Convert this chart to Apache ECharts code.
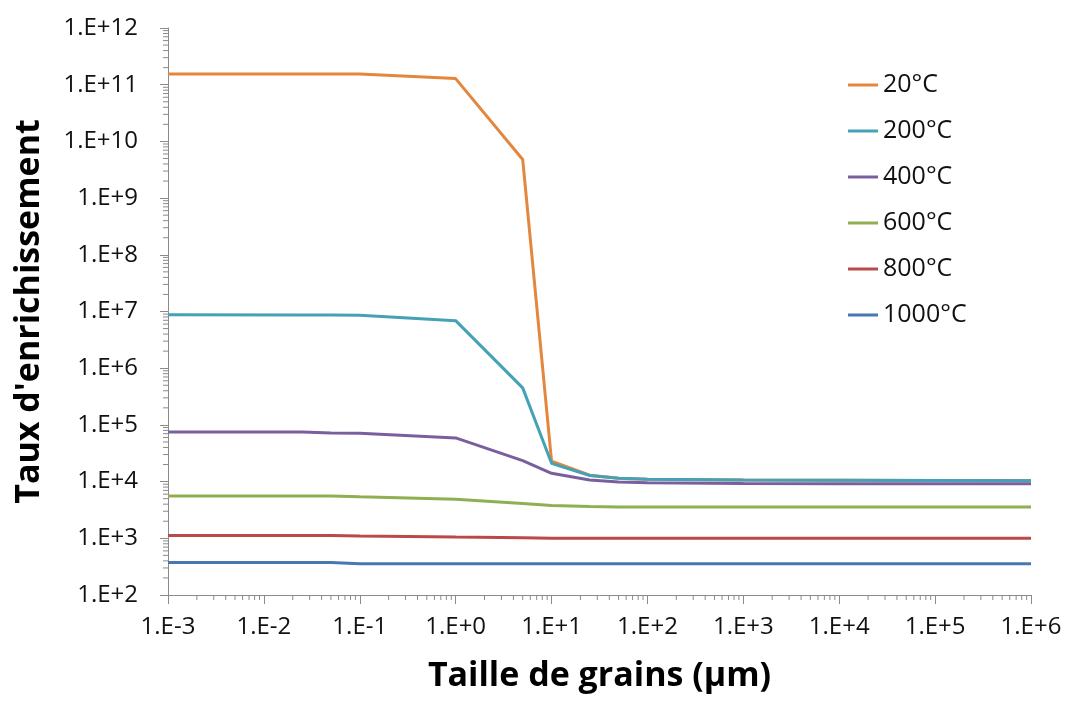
<!DOCTYPE html>
<html>
<head>
<meta charset="utf-8">
<script src="https://cdn.jsdelivr.net/npm/echarts@6/dist/echarts.min.js"></script>
<style>
html,body{margin:0;padding:0;background:#fff;}
#chart{width:1066px;height:704px;}
</style>
</head>
<body>
<div id="chart"></div>
<script>
// ---- Data ----
const seriesNames = ['20°C', '200°C', '400°C', '600°C', '800°C', '1000°C'];
const grainSize = [0.001, 0.025, 0.05, 0.1, 1, 5, 10, 25, 50, 100, 1000, 10000, 100000, 1000000];
const t20   = [1.55e11, 1.55e11, 1.55e11, 1.55e11, 1.28e11, 4.8e9, 2.3e4, 1.3e4, 1.15e4, 1.1e4, 1.07e4, 1.06e4, 1.05e4, 1.05e4];
const t200  = [8.8e6, 8.7e6, 8.65e6, 8.6e6, 6.9e6, 4.5e5, 2.1e4, 1.28e4, 1.15e4, 1.1e4, 1.07e4, 1.06e4, 1.05e4, 1.04e4];
const t400  = [7.5e4, 7.5e4, 7.2e4, 7.1e4, 5.9e4, 2.35e4, 1.4e4, 1.07e4, 9.8e3, 9.5e3, 9.3e3, 9.2e3, 9.2e3, 9.2e3];
const t600  = [5.6e3, 5.6e3, 5.6e3, 5.4e3, 4.9e3, 4.1e3, 3.8e3, 3.65e3, 3.55e3, 3.55e3, 3.55e3, 3.55e3, 3.55e3, 3.55e3];
const t800  = [1.12e3, 1.12e3, 1.12e3, 1.1e3, 1.05e3, 1.02e3, 1.0e3, 1.0e3, 1.0e3, 1.0e3, 1.0e3, 1.0e3, 1.0e3, 1.0e3];
const t1000 = [375, 375, 375, 355, 355, 355, 355, 355, 355, 355, 355, 355, 355, 355];
const seriesValues = [t20, t200, t400, t600, t800, t1000];
const colors = ['#E2873D', '#45A1B6', '#7A5FA0', '#8FAF52', '#BA4A49', '#4977B0'];

// Axis ticks
const xMin = 1e-3, xMax = 1e6, yMin = 1e2, yMax = 1e12;
const minorMultipliers = [2, 3, 4, 5, 6, 7, 8, 9];
const xDecades = [-3, -2, -1, 0, 1, 2, 3, 4, 5];
const yDecades = [2, 3, 4, 5, 6, 7, 8, 9, 10, 11];

const xMinorTicks = [];
xDecades.forEach(d => minorMultipliers.forEach(m => xMinorTicks.push([m * Math.pow(10, d), yMin])));
const yMinorTicks = [];
yDecades.forEach(d => minorMultipliers.forEach(m => yMinorTicks.push([xMin, m * Math.pow(10, d)])));

const FONT = "'Open Sans', 'DejaVu Sans', sans-serif";
const AXIS_COLOR = '#8a8a8a';

function expLabel(v) {
  const e = Math.round(Math.log10(v));
  return '1.E' + (e >= 0 ? '+' : '') + e;
}

const chart = echarts.init(document.getElementById('chart'), null, {renderer: 'canvas'});

const lineSeries = seriesNames.map((name, i) => ({
  name: name,
  type: 'line',
  data: grainSize.map((x, j) => [x, seriesValues[i][j]]),
  symbol: 'none',
  lineStyle: {width: 3, color: colors[i]},
  itemStyle: {color: colors[i]},
  z: 3 + i
}));

function tickRenderer(dir) {
  return function (params, api) {
    const p = api.coord([api.value(0), api.value(1)]);
    const shape = dir === 'x'
      ? {x1: p[0], y1: p[1], x2: p[0], y2: p[1] + 5}
      : {x1: p[0], y1: p[1], x2: p[0] - 5, y2: p[1]};
    return {type: 'line', shape: shape, style: {stroke: AXIS_COLOR, lineWidth: 1}};
  };
}

const option = {
  backgroundColor: '#ffffff',
  animation: false,
  textStyle: {fontFamily: FONT},
  grid: {left: 168, right: 35, top: 28, bottom: 109, containLabel: false},
  legend: {
    data: seriesNames,
    orient: 'vertical',
    left: 843,
    top: 67,
    itemWidth: 30,
    itemHeight: 3,
    itemGap: 20,
    icon: 'rect',
    textStyle: {fontSize: 25, color: '#111', fontFamily: FONT, lineHeight: 26}
  },
  xAxis: {
    type: 'log',
    logBase: 10,
    min: xMin,
    max: xMax,
    splitNumber: 9,
    name: 'Taille de grains (µm)',
    nameLocation: 'middle',
    nameGap: 64,
    nameTextStyle: {fontSize: 34, fontWeight: 'bold', color: '#000', fontFamily: FONT},
    axisLine: {show: true, lineStyle: {color: AXIS_COLOR, width: 1}},
    axisTick: {show: true, inside: false, length: 9, lineStyle: {color: AXIS_COLOR}},
    axisLabel: {formatter: expLabel, fontSize: 24, color: '#111', margin: 20, fontFamily: FONT,
                showMinLabel: true, showMaxLabel: true},
    splitLine: {show: false}
  },
  yAxis: {
    type: 'log',
    logBase: 10,
    min: yMin,
    max: yMax,
    splitNumber: 10,
    name: "Taux d'enrichissement",
    nameLocation: 'middle',
    nameRotate: 90,
    nameGap: 122,
    nameTextStyle: {fontSize: 34, fontWeight: 'bold', color: '#000', fontFamily: FONT},
    axisLine: {show: true, lineStyle: {color: AXIS_COLOR, width: 1}},
    axisTick: {show: true, inside: false, length: 8, lineStyle: {color: AXIS_COLOR}},
    axisLabel: {formatter: expLabel, fontSize: 24, color: '#111', margin: 30, fontFamily: FONT,
                showMinLabel: true, showMaxLabel: true},
    splitLine: {show: false}
  },
  series: lineSeries.concat([
    {type: 'custom', name: 'xMinor', data: xMinorTicks, renderItem: tickRenderer('x'), clip: false, silent: true, z: 1},
    {type: 'custom', name: 'yMinor', data: yMinorTicks, renderItem: tickRenderer('y'), clip: false, silent: true, z: 1}
  ])
};

chart.setOption(option);
</script>
</body>
</html>
